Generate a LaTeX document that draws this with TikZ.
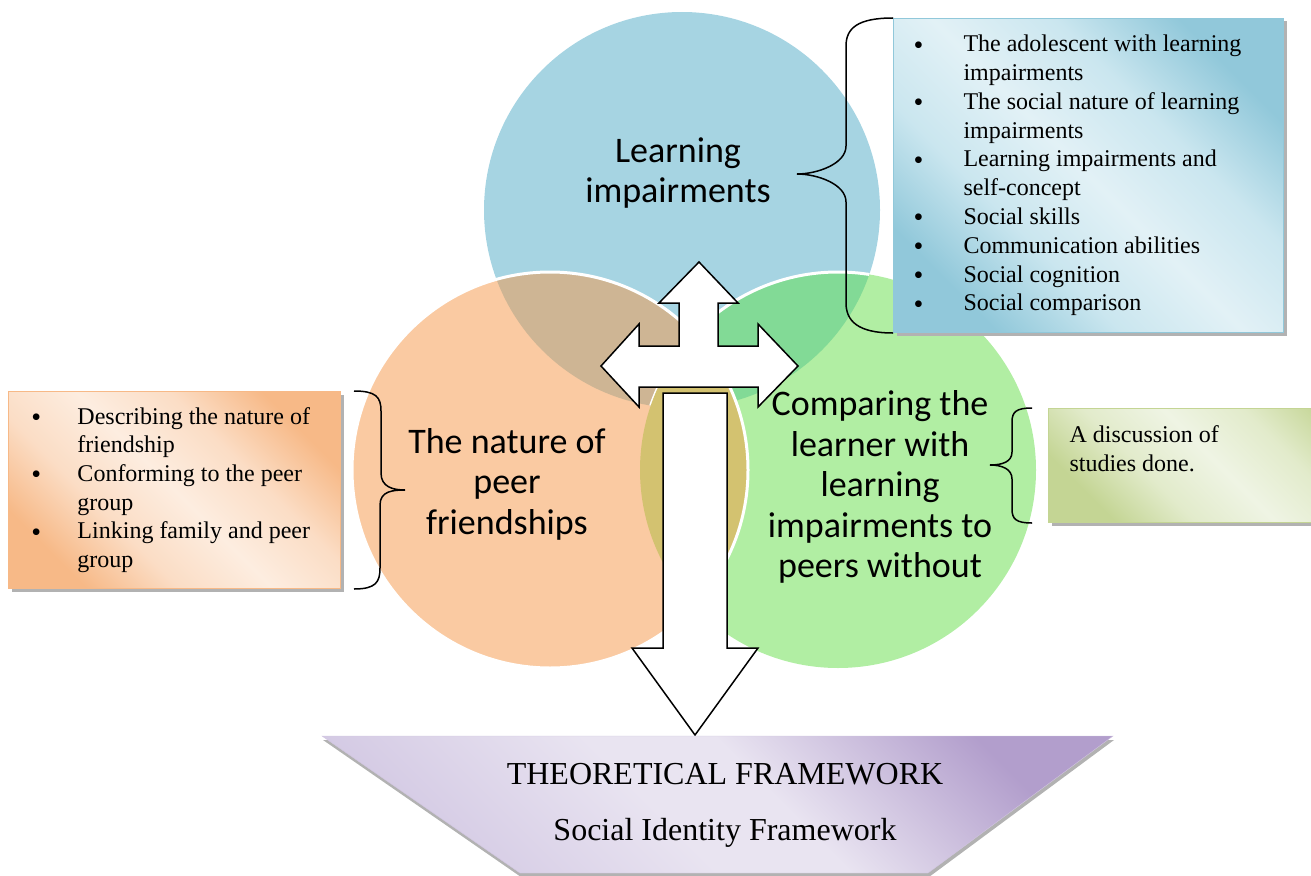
\documentclass[tikz,border=0pt]{standalone}
\usepackage{fontspec}
\setmainfont{Liberation Serif}
\newfontfamily\circfont{Carlito}
\usetikzlibrary{shadows}

\definecolor{lrnblue}{RGB}{166,212,226}
\definecolor{peerorange}{RGB}{250,202,162}
\definecolor{cmpgreen}{RGB}{177,238,163}
\definecolor{lrnpeer}{RGB}{206,181,148}
\definecolor{lrncmp}{RGB}{130,218,150}
\definecolor{peercmp}{RGB}{211,194,112}
\definecolor{lrndark}{RGB}{145,200,218}
\definecolor{lrnmid}{RGB}{202,230,239}
\definecolor{lrnlight}{RGB}{226,241,246}
\definecolor{peerdark}{RGB}{247,185,135}
\definecolor{peermid}{RGB}{251,221,197}
\definecolor{peerlight}{RGB}{253,237,224}
\definecolor{cmpdark}{RGB}{196,213,148}
\definecolor{cmpmid}{RGB}{226,235,203}
\definecolor{cmplight}{RGB}{239,244,228}
\definecolor{framedark}{RGB}{178,158,204}
\definecolor{framemid}{RGB}{212,202,228}
\definecolor{framelight}{RGB}{233,228,241}

\pgfdeclareverticalshading{lrnshade}{100bp}{color(0bp)=(lrndark); color(25bp)=(lrndark);
  color(37.5bp)=(lrnmid); color(50bp)=(lrnlight); color(62.5bp)=(lrnmid); color(75bp)=(lrndark); color(100bp)=(lrndark)}
\pgfdeclareverticalshading{peershade}{100bp}{color(0bp)=(peerdark); color(25bp)=(peerdark);
  color(37.5bp)=(peermid); color(50bp)=(peerlight); color(62.5bp)=(peermid); color(75bp)=(peerdark); color(100bp)=(peerdark)}
\pgfdeclareverticalshading{cmpshade}{100bp}{color(0bp)=(cmpdark); color(25bp)=(cmpdark);
  color(37.5bp)=(cmpmid); color(50bp)=(cmplight); color(62.5bp)=(cmpmid); color(75bp)=(cmpdark); color(100bp)=(cmpdark)}
\pgfdeclareverticalshading{frameshade}{100bp}{color(0bp)=(framemid); color(25bp)=(framemid);
  color(45bp)=(framelight); color(55bp)=(framelight); color(75bp)=(framedark); color(100bp)=(framedark)}

\newcommand{\bul}{\raisebox{-2.5pt}{\fontsize{28}{28}\selectfont\textbullet}}

\tikzset{
  infobox/.style={anchor=north west, inner sep=0pt, line width=1pt, shading angle=-45,
    drop shadow={shadow xshift=3pt, shadow yshift=-3pt, fill=gray!60, opacity=1}},
  circtext/.style={font=\circfont\fontsize{36}{40.5}\selectfont, align=center},
  bracket/.style={draw=black, line width=1.5pt},
  blockarrow/.style={draw=black, fill=white, line width=1.5pt, line join=miter}
}

\begin{document}
\begin{tikzpicture}[x=1pt,y=-1pt]
\useasboundingbox (0,0) rectangle (1311,875);

% the three circles
\coordinate (lc) at (682,210);
\coordinate (pc) at (550,470);
\coordinate (cc) at (838,470);
\fill[lrnblue] (lc) circle (198pt);
\fill[cmpgreen] (cc) circle (198pt);
\fill[peerorange] (pc) circle (198pt);
\begin{scope}
  \clip (lc) circle (198pt);
  \fill[lrnpeer] (pc) circle (198pt);
  \fill[lrncmp] (cc) circle (198pt);
  \draw[white, line width=3pt] (cc) circle (198pt);
\end{scope}
\begin{scope}
  \clip (pc) circle (198pt);
  \fill[peercmp] (cc) circle (198pt);
\end{scope}
\draw[white, line width=3pt] (pc) circle (198pt);

% arrows
\draw[blockarrow] (699,262) -- (738,303) -- (718,303) -- (718,346) -- (758,346) -- (758,324)
  -- (798,366) -- (758,407) -- (758,387) -- (639,387) -- (639,407) -- (601,366) -- (639,324)
  -- (639,346) -- (679,346) -- (679,303) -- (659,303) -- cycle;
\draw[blockarrow] (663,393) -- (727,393) -- (727,648) -- (758,648) -- (695,735) -- (632,648)
  -- (663,648) -- cycle;

% framework
\path[draw=framedark!60!white, shading=frameshade, shading angle=-45,
  drop shadow={shadow xshift=1pt, shadow yshift=-4pt, fill=gray!60, opacity=1}]
  (322,736) -- (1113,736) -- (928,873) -- (520,873) -- cycle;
\node[align=center, font=\fontsize{32}{56}\selectfont] (frame) at (725,805)
  {THEORETICAL FRAMEWORK\\Social Identity Framework};

% boxes
\node[infobox, draw=lrndark, shading=lrnshade,
  minimum width=390pt, minimum height=314pt] (lrnbox) at (893,18)
{\fontsize{24}{28.8}\selectfont
\begin{tabular}{@{\hspace{20pt}}p{50pt}@{}p{320pt}@{}}
\bul & The adolescent with learning\\
 & impairments\\
\bul & The social nature of learning\\
 & impairments\\
\bul & Learning impairments and\\
 & self-concept\\
\bul & Social skills\\
\bul & Communication abilities\\
\bul & Social cognition\\
\bul & Social comparison
\end{tabular}};

\node[infobox, draw=peerdark, shading=peershade,
  minimum width=332pt, minimum height=197pt] (peerbox) at (8,391)
{\fontsize{24}{28.6}\selectfont
\begin{tabular}{@{\hspace{23pt}}p{46pt}@{}p{263pt}@{}}
\bul & Describing the nature of\\
 & friendship\\
\bul & Conforming to the peer\\
 & group\\
\bul & Linking family and peer\\
 & group
\end{tabular}};

\node[infobox, draw=cmpdark, shading=cmpshade,
  inner xsep=21pt] (cmpbox) at (1048,408)
{\parbox[c][114pt][t]{300pt}{\fontsize{24}{28.8}\selectfont\vspace*{17pt}A discussion of\\studies done.}};

% braces
\coordinate (lrntip) at (797,174);
\coordinate (peertip) at (405,490);
\coordinate (cmptip) at (990,465);
\draw[bracket] (lrnbox.north west) .. controls +(-35,0) and +(0,-18) .. ++(-47,28) -- ++(0,100)
  .. controls +(0,18) and +(20,0) .. (lrntip) .. controls +(20,0) and +(0,-18) .. ++(49,28)
  -- ++(0,101) .. controls +(0,18) and +(-35,0) .. (lrnbox.south west);
\draw[bracket] ([xshift=13pt]peerbox.north east) .. controls +(22,0) and +(0,-14) .. ++(27,20) -- ++(0,62)
  .. controls +(0,14) and +(-12,0) .. (peertip) .. controls +(-12,0) and +(0,-14) .. ++(-25,15)
  -- ++(0,63) .. controls +(0,14) and +(22,0) .. ([xshift=13pt]peerbox.south east);
\draw[bracket] ([xshift=-16pt]cmpbox.north west) .. controls +(-16,0) and +(0,-10) .. ++(-20,14) -- ++(0,30)
  .. controls +(0,10) and +(12,0) .. (cmptip) .. controls +(12,0) and +(0,-10) .. ++(22,14)
  -- ++(0,30) .. controls +(0,10) and +(-16,0) .. ([xshift=-16pt]cmpbox.south west);

% circle labels
\node[circtext] (lrn) at (678,173) {Learning\\impairments};
\node[circtext] (peer) at (507,484) {The nature of\\peer\\friendships};
\node[circtext] (cmp) at (880,487) {Comparing the\\learner with\\learning\\impairments to\\peers without};
\end{tikzpicture}
\end{document}
